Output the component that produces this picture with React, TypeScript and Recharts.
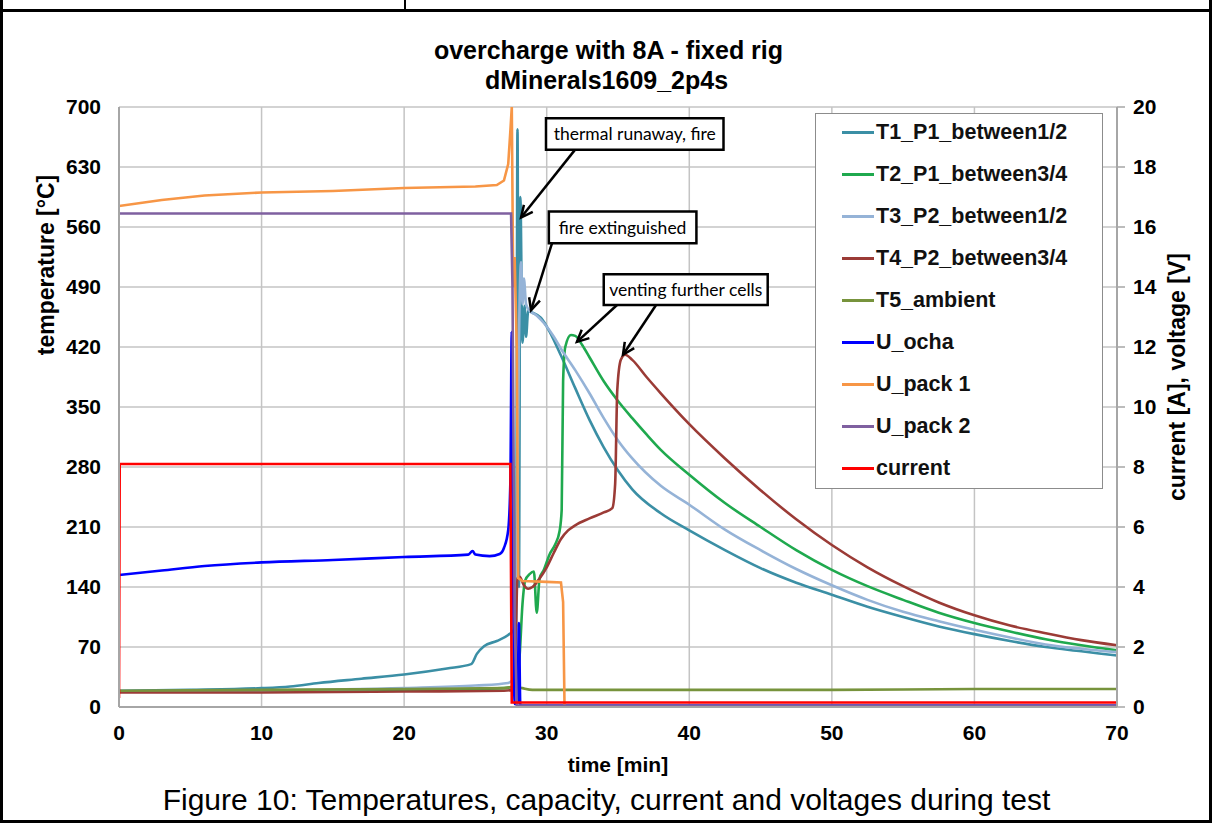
import { LineChart, Line, XAxis, YAxis, CartesianGrid, ReferenceArea, ReferenceLine } from 'recharts';

const TIME_TICKS = [0, 10, 20, 30, 40, 50, 60, 70];
const TEMP_TICKS = [0, 70, 140, 210, 280, 350, 420, 490, 560, 630, 700];
const VOLT_TICKS = [0, 2, 4, 6, 8, 10, 12, 14, 16, 18, 20];

// [time min, value]
const T1_P1: [number, number][] = [
  [0, 19], [5, 20], [10, 22], [12, 24], [14, 28], [17, 33], [20, 38], [23, 45], [24.7, 50], [25.1, 62],
  [25.6, 71], [26.5, 77], [27.3, 84], [27.7, 90], [27.85, 95], [27.95, 674], [28.05, 140], [28.15, 595],
  [28.3, 425], [28.45, 468], [28.55, 432], [28.7, 462], [29, 460], [29.6, 454], [30.2, 438], [31, 410],
  [32, 372], [33, 335], [34, 303], [35, 276], [36, 254], [38, 226], [40, 206], [42.5, 183], [45, 162],
  [47.5, 145], [50, 131], [52.5, 117], [55, 105], [57.5, 94], [60, 85], [62.5, 77], [65, 70], [67.5, 65], [70, 60],
];
const T2_P1: [number, number][] = [
  [0, 18], [10, 19], [20, 20], [27, 22], [27.8, 25], [28.1, 60], [28.3, 120], [28.5, 148], [28.8, 155],
  [29.1, 158], [29.3, 110], [29.5, 150], [29.8, 160], [30.2, 178], [30.6, 190], [30.9, 205], [31.05, 230],
  [31.15, 380], [31.3, 420], [31.7, 434], [32, 433], [32.5, 422], [33, 408], [34, 380], [35, 357], [36, 337],
  [37, 318], [38, 300], [40, 271], [42.5, 238], [45, 210], [47.5, 183], [50, 160], [52.5, 141], [55, 125],
  [57.5, 110], [60, 98], [62.5, 88], [65, 79], [67.5, 72], [70, 66],
];
const T3_P2: [number, number][] = [
  [0, 18], [10, 19], [20, 22], [25, 25], [27.3, 28], [27.7, 35], [27.9, 150], [28.05, 420], [28.2, 519],
  [28.3, 470], [28.4, 500], [28.55, 470], [28.8, 462], [29.2, 458], [29.8, 448], [30.5, 432], [31, 418],
  [32, 393], [33, 366], [34, 337], [35, 311], [36, 290], [38, 258], [40, 236], [42.5, 207], [45, 183],
  [47.5, 161], [50, 142], [52.5, 125], [55, 111], [57.5, 100], [60, 90], [62.5, 81], [65, 73], [67.5, 68], [70, 64],
];
const T4_P2: [number, number][] = [
  [0, 17], [10, 17], [20, 18], [27, 19], [27.6, 20], [27.8, 60], [27.95, 150], [28.1, 152], [28.4, 142],
  [28.7, 138], [29, 140], [29.5, 150], [30, 163], [30.5, 180], [31, 196], [31.5, 206], [32, 212], [33, 220],
  [34, 227], [34.6, 232], [34.8, 260], [34.95, 370], [35.2, 405], [35.5, 411], [36, 405], [37, 385], [38, 366],
  [40, 330], [42.5, 290], [45, 253], [47.5, 219], [50, 189], [52.5, 163], [55, 141], [57.5, 122], [60, 107],
  [62.5, 95], [65, 86], [67.5, 78], [70, 72],
];
const T5_AMBIENT: [number, number][] = [
  [0, 19], [10, 20], [20, 21], [27, 22], [27.8, 24], [28.3, 22], [29, 20], [35, 20], [50, 20], [60, 21], [70, 21],
];
const U_OCHA: [number, number][] = [
  [0, 4.4], [3, 4.55], [6, 4.7], [10, 4.82], [15, 4.9], [20, 5.0], [24.5, 5.08], [24.8, 5.2], [25, 5.08],
  [26, 5.03], [26.7, 5.1], [27, 5.3], [27.3, 5.9], [27.45, 7.5], [27.55, 12.5], [27.65, 4], [27.75, 0.1],
  [27.95, 0.1], [28.05, 2.8], [28.15, 0.05], [70, 0.05],
];
const U_PACK1: [number, number][] = [
  [0, 16.7], [3, 16.9], [6, 17.05], [10, 17.15], [15, 17.2], [20, 17.3], [25, 17.35], [26.5, 17.4], [27, 17.55],
  [27.3, 18.1], [27.45, 19.2], [27.55, 20], [27.65, 14], [27.75, 15], [27.9, 12], [28, 4.3], [28.3, 4.2],
  [30, 4.17], [31, 4.15], [31.15, 3.5], [31.25, 0], [70, 0],
];
const U_PACK2: [number, number][] = [
  [0, 16.45], [27.5, 16.45], [27.6, 14], [27.75, 3], [27.9, 0.05], [70, 0.05],
];
const CURRENT: [number, number][] = [
  [0, 0.3], [0.05, 8.1], [27.45, 8.1], [27.55, 0.15], [70, 0.15],
];

const series = [
  { name: 'T1_P1_between1/2', color: '#3b8fa5', axis: 'left', data: T1_P1, curve: 'monotone' },
  { name: 'T2_P1_between3/4', color: '#1fa94e', axis: 'left', data: T2_P1, curve: 'monotone' },
  { name: 'T3_P2_between1/2', color: '#95b3d7', axis: 'left', data: T3_P2, curve: 'monotone' },
  { name: 'T4_P2_between3/4', color: '#9b3b36', axis: 'left', data: T4_P2, curve: 'monotone' },
  { name: 'T5_ambient', color: '#77933c', axis: 'left', data: T5_AMBIENT, curve: 'monotone' },
  { name: 'U_ocha', color: '#0000ff', axis: 'right', data: U_OCHA, curve: 'monotone' },
  { name: 'U_pack 1', color: '#f79646', axis: 'right', data: U_PACK1, curve: 'linear' },
  { name: 'U_pack 2', color: '#7f60a0', axis: 'right', data: U_PACK2, curve: 'linear' },
  { name: 'current', color: '#ff0000', axis: 'right', data: CURRENT, curve: 'linear' },
];

// annotation boxes and arrows, in (time, temperature) units
const NOTES = [
  { text: 'thermal runaway, fire', x1: 29.95, x2: 42.4, y1: 650, y2: 687 },
  { text: 'fire extinguished', x1: 30.15, x2: 40.5, y1: 541, y2: 578 },
  { text: 'venting further cells', x1: 34.0, x2: 45.5, y1: 469, y2: 505 },
];
const ARROWS = [
  { from: [31.98, 650], to: [28.2, 571] },
  { from: [30.37, 541], to: [28.9, 463] },
  { from: [34.93, 469], to: [32.12, 426] },
  { from: [37.67, 469], to: [35.35, 411] },
];

const FONT = '"Liberation Sans", Arial, sans-serif';

const Arrow = (props: any) => {
  const { x1, y1, x2, y2 } = props;
  const ang = Math.atan2(y2 - y1, x2 - x1);
  const len = 13;
  const spread = 0.45;
  const ax = x2 - len * Math.cos(ang - spread);
  const ay = y2 - len * Math.sin(ang - spread);
  const bx = x2 - len * Math.cos(ang + spread);
  const by = y2 - len * Math.sin(ang + spread);
  return (
    <g>
      <line x1={x1} y1={y1} x2={x2} y2={y2} stroke="#000" strokeWidth={2.5} />
      <polyline points={`${ax},${ay} ${x2},${y2} ${bx},${by}`} fill="none" stroke="#000" strokeWidth={2.5} />
    </g>
  );
};

export default function App() {
  const tickStyle = { fontSize: 21, fontWeight: 700, fill: '#000', fontFamily: FONT };
  return (
    <div style={{ position: 'absolute', left: 0, top: 0, width: 1213, height: 823, background: '#fff', fontFamily: FONT }}>
      {/* table frame */}
      <div style={{ position: 'absolute', left: 0, top: 0, width: 3, height: 823, background: '#000' }} />
      <div style={{ position: 'absolute', left: 1209, top: 0, width: 3, height: 823, background: '#000' }} />
      <div style={{ position: 'absolute', left: 0, top: 9, width: 1212, height: 3, background: '#000' }} />
      <div style={{ position: 'absolute', left: 404, top: 0, width: 2, height: 10, background: '#000' }} />
      <div style={{ position: 'absolute', left: 0, top: 820, width: 1212, height: 3, background: '#000' }} />

      <div style={{ position: 'absolute', left: 0, width: 1213, top: 35, textAlign: 'center', fontSize: 25, fontWeight: 700, lineHeight: '30px' }}>
        <div style={{ marginLeft: 4 }}>overcharge with 8A - fixed rig</div>
        <div>dMinerals1609_2p4s</div>
      </div>

      <LineChart width={1213} height={823} margin={{ top: 107, right: 36, bottom: 86, left: 59 }} style={{ position: 'absolute', left: 0, top: 0 }}>
        <CartesianGrid yAxisId="left" stroke="#c4c4c4" strokeWidth={1.5} />
        <XAxis
          dataKey="t" type="number" domain={[0, 70]} ticks={TIME_TICKS} allowDataOverflow
          axisLine={{ stroke: '#a6a6a6', strokeWidth: 2 }} tickLine={false} tickSize={6} tickMargin={12}
          tick={tickStyle} height={30}
        />
        <YAxis
          yAxisId="left" type="number" domain={[0, 700]} ticks={TEMP_TICKS} allowDataOverflow
          axisLine={{ stroke: '#a6a6a6', strokeWidth: 2 }} tickLine={false} tickSize={6} tickMargin={12}
          tick={tickStyle} width={60}
        />
        <YAxis
          yAxisId="right" orientation="right" type="number" domain={[0, 20]} ticks={VOLT_TICKS} allowDataOverflow
          axisLine={{ stroke: '#a6a6a6', strokeWidth: 2 }} tickLine={{ stroke: '#a6a6a6', strokeWidth: 1.5 }}
          tickSize={8} tickMargin={8} tick={tickStyle} width={60}
        />
        {series.map((s) => (
          <Line
            key={s.name} yAxisId={s.axis} data={s.data.map(([t, v]) => ({ t, v }))} dataKey="v" name={s.name}
            type={s.curve as any} stroke={s.color} strokeWidth={2.6} dot={false} isAnimationActive={false}
          />
        ))}
        {NOTES.map((n) => (
          <ReferenceArea
            key={n.text} yAxisId="left" x1={n.x1} x2={n.x2} y1={n.y1} y2={n.y2}
            fill="#fff" fillOpacity={1} stroke="#000" strokeWidth={2.5}
            label={{ value: n.text, position: 'center', fill: '#000', fontSize: 17.5, fontFamily: 'Lato, "Open Sans", sans-serif' }}
          />
        ))}
        {ARROWS.map((a, i) => (
          <ReferenceLine
            key={i} yAxisId="left" segment={[{ x: a.from[0], y: a.from[1] }, { x: a.to[0], y: a.to[1] }]}
            shape={Arrow}
          />
        ))}
      </LineChart>

      {/* legend */}
      <div style={{ position: 'absolute', left: 815, top: 113, width: 286, height: 374, border: '1.5px solid #8c8c8c', background: '#fff' }}>
        {series.map((s, i) => (
          <div key={s.name} style={{ position: 'absolute', left: 26, top: 4 + i * 42, height: 28, display: 'flex', alignItems: 'center' }}>
            <div style={{ width: 32, height: 3, background: s.color }} />
            <span style={{ fontSize: 21.5, fontWeight: 700, color: '#111', marginLeft: 2 }}>{s.name}</span>
          </div>
        ))}
      </div>

      {/* axis titles */}
      <div style={{ position: 'absolute', left: 618, top: 765, transform: 'translate(-50%, -50%)', fontSize: 21, fontWeight: 700, whiteSpace: 'nowrap' }}>
        time [min]
      </div>
      <div style={{ position: 'absolute', left: 46, top: 265, transform: 'translate(-50%, -50%) rotate(-90deg)', fontSize: 23, fontWeight: 700, whiteSpace: 'nowrap' }}>
        temperature [°C]
      </div>
      <div style={{ position: 'absolute', left: 1177, top: 377, transform: 'translate(-50%, -50%) rotate(-90deg)', fontSize: 23, fontWeight: 700, whiteSpace: 'nowrap' }}>
        current [A], voltage [V]
      </div>

      <div style={{ position: 'absolute', left: 0, width: 1213, top: 783, textAlign: 'center', fontSize: 30, whiteSpace: 'nowrap' }}>
        Figure 10: Temperatures, capacity, current and voltages during test
      </div>
    </div>
  );
}
